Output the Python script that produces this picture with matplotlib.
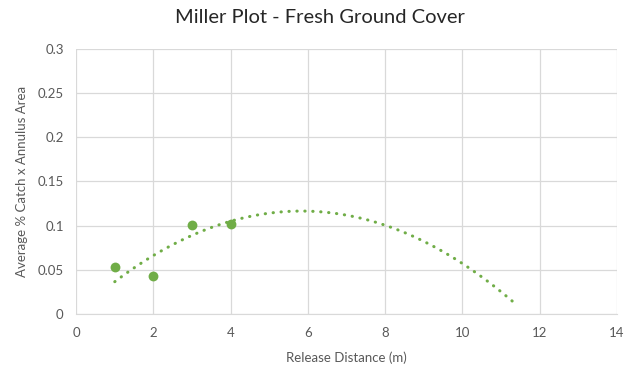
import numpy as np
import matplotlib.pyplot as plt

# ---------------------------------------------------------------------------
# Data
# ---------------------------------------------------------------------------
release_distance = [1, 2, 3, 4]
catch_x_area = [0.0535, 0.0433, 0.101, 0.102]

# polynomial (order 2) trendline as shown on the chart: a*x^2 + b*x + c
trend_coeffs = [-0.00342, 0.0399, 0.0002]
trend_x_range = [1.0, 11.4]

GREEN = "#70AD47"
GRID = "#D9D9D9"
TXT = "#595959"

plt.rcParams["font.family"] = ["Lato", "DejaVu Sans"]

fig = plt.figure(figsize=(6.4, 3.7), dpi=100)
ax = fig.add_axes([0.119, 0.151, 0.845, 0.717])

tx = np.linspace(trend_x_range[0], trend_x_range[1], 300)
ax.plot(tx, np.polyval(trend_coeffs, tx), color=GREEN, lw=2.2,
        linestyle=(0, (0.1, 2.5)), dash_capstyle="round", zorder=2)
ax.scatter(release_distance, catch_x_area, s=50, color=GREEN, zorder=3,
           linewidths=0)

ax.set_xlim(0, 14)
ax.set_ylim(0, 0.3)
ax.set_xticks(np.arange(0, 15, 2))
ax.set_yticks(np.arange(0, 0.31, 0.05))
ax.set_yticklabels(["0", "0.05", "0.1", "0.15", "0.2", "0.25", "0.3"])
ax.grid(True, color=GRID, lw=0.9)
ax.set_axisbelow(True)
for s in ["top", "right", "left"]:
    ax.spines[s].set_visible(False)
ax.spines["bottom"].set_color(GRID)
ax.tick_params(length=0, colors=TXT, labelsize=9.5, pad=9)

ax.set_xlabel("Release Distance (m)", color=TXT, fontsize=9.5, labelpad=9)
ax.set_ylabel("Average % Catch x Annulus Area", color=TXT, fontsize=9.5,
              labelpad=7)
fig.suptitle("Miller Plot - Fresh Ground Cover", y=0.975, fontsize=14.5,
             color="#262626")

fig.savefig("out.png", dpi=100)
